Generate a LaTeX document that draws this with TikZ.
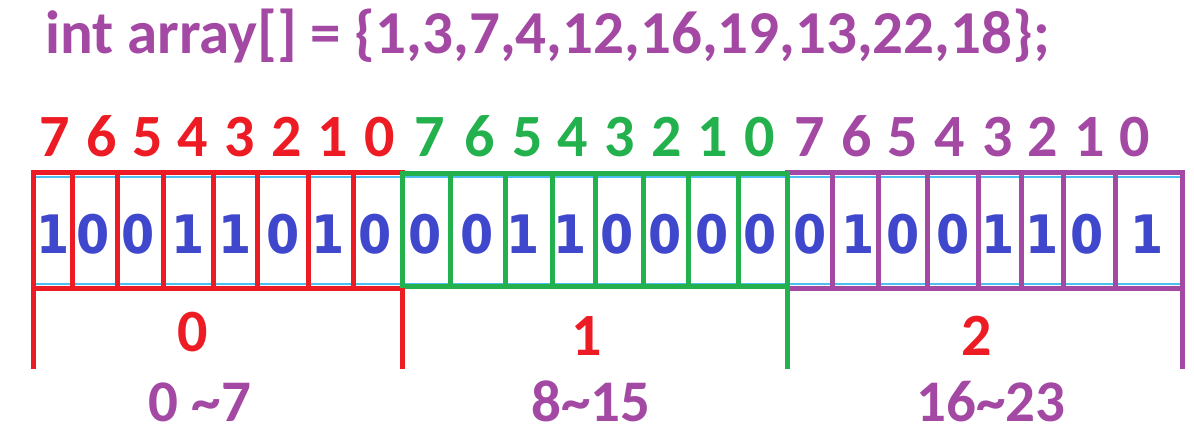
\documentclass[tikz,border=0pt]{standalone}
\usepackage{fontspec}
\newfontfamily\dejab{DejaVu Sans}[FakeStretch=0.9]
\newfontfamily\carlb{Carlito}
\definecolor{pred}{HTML}{ED1C24}
\definecolor{pgreen}{HTML}{22B14C}
\definecolor{ppurple}{HTML}{A349A4}
\definecolor{pblue}{HTML}{3F48CC}
\definecolor{pcyan}{HTML}{00A2E8}
\begin{document}
\begin{tikzpicture}[x=1pt,y=-1pt,
  lbl/.style={inner sep=0pt, anchor=base},
  idx/.style={lbl, font=\carlb\bfseries\fontsize{60}{60}\selectfont},
  bit/.style={lbl, text=pblue, font=\dejab\bfseries\fontsize{53}{53}\selectfont},
  grp/.style={lbl, text=pred, font=\carlb\bfseries\fontsize{60}{60}\selectfont},
  rng/.style={lbl, text height=36pt, text depth=0pt, text=ppurple, font=\carlb\bfseries\fontsize{59}{59}\selectfont},
  frame/.style={line width=5pt},
  thin/.style={pcyan!70, line width=2pt}]
\useasboundingbox (0,0) rectangle (1194,432);
% title
\node[lbl, anchor=base west, text=ppurple, font=\carlb\bfseries\fontsize{61}{61}\selectfont] (title) at (45,53)
  {int array[] = \{1,3,7,4,12,16,19,13,22,18\};};
% thin cyan lines
\draw[thin] (33,177) -- (1182,177);
\draw[thin] (33,284) -- (1182,284);
% purple byte
\draw[frame, ppurple] (787,172) rectangle (1182,288);
\foreach \x in {832,878,927,978,1021,1063,1115} \draw[frame, ppurple] (\x,172) -- (\x,288);
% red byte
\draw[frame, pred] (33,172) rectangle (402,288);
\foreach \x in {72,117,163,213,257,308,353} \draw[frame, pred] (\x,172) -- (\x,288);
% green byte
\draw[frame, pgreen] (402,173) rectangle (787,286);
\foreach \x in {450,505,552,595,643,688,738} \draw[frame, pgreen] (\x,173) -- (\x,286);
% brackets
\draw[frame, pred] (33,288) -- (33,369);
\draw[frame, pred] (402,288) -- (402,369);
\draw[frame, pgreen] (787,286) -- (787,369);
\draw[frame, ppurple] (1182,288) -- (1182,369);
% bit indices
\foreach \x/\t in {55/7,102/6,148/5,193/4,240/3,287/2,333/1,380/0}
  \node[idx, text=pred] (ri\t) at (\x,156) {\t};
\foreach \x/\t in {430/7,480/6,528/5,573/4,620/3,667/2,713/1,760/0}
  \node[idx, text=pgreen] (gi\t) at (\x,156) {\t};
\foreach \x/\t in {810/7,857/6,903/5,950/4,998/3,1043/2,1090/1,1135/0}
  \node[idx, text=ppurple] (pi\t) at (\x,156) {\t};
% bits
\foreach \x/\b [count=\i] in {53/1,93/0,138/0,188/1,235/1,283/0,328/1,375/0}
  \node[bit] (rb\i) at (\x,253) {\b};
\foreach \x/\b [count=\i] in {425/0,477/0,523/1,570/1,617/0,665/0,712/0,760/0}
  \node[bit] (gb\i) at (\x,253) {\b};
\foreach \x/\b [count=\i] in {810/0,858/1,903/0,953/0,998/1,1042/1,1087/0,1147/1}
  \node[bit] (pb\i) at (\x,253) {\b};
% group indices
\node[grp] (g0) at (193,351) {0};
\node[grp] (g1) at (587,355) {1};
\node[grp] (g2) at (977,355) {2};
% ranges
\node[rng] (r0) at (200,421) {0 \textasciitilde7};
\node[rng] (r1) at (591,421) {8\textasciitilde15};
\node[rng] (r2) at (991,421) {16\textasciitilde23};
\end{tikzpicture}
\end{document}
